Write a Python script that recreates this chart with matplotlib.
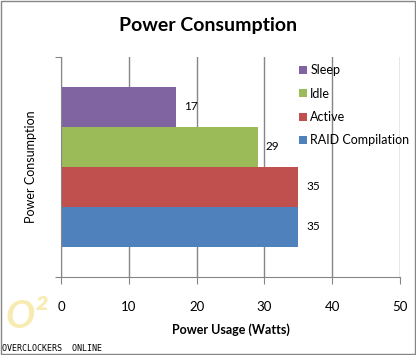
import matplotlib.pyplot as plt
from matplotlib.patches import Rectangle

# data
series = ['RAID Compilation', 'Active', 'Idle', 'Sleep']
watts = [35, 35, 29, 17]
colors = ['#4F81BD', '#C0504D', '#9BBB59', '#8064A2']
xticks = [0, 10, 20, 30, 40, 50]

plt.rcParams['font.family'] = ['Lato', 'DejaVu Sans']

fig = plt.figure(figsize=(4.16, 3.55), dpi=100)
ax = fig.add_axes([61 / 416, 1 - 277 / 355, (400 - 61) / 416, 220 / 355])

bars = ax.barh(range(len(series)), watts, height=1.0, color=colors, zorder=2)
for i, v in enumerate(watts):
    ax.text(v + 1.2, i, str(v), va='center', ha='left', fontsize=8.5)

ax.set_xlim(0, 50)
ax.set_ylim(-1.25, 4.25)
ax.set_xticks(xticks)
ax.set_yticks([-1.25, 4.25])
ax.set_yticklabels([])
ax.tick_params(axis='x', length=5, color='#868686', labelsize=9.5, pad=12)
ax.tick_params(axis='y', length=4, color='#868686')
ax.grid(axis='x', color='#868686', linewidth=1, zorder=0)
for s in ['top', 'right']:
    ax.spines[s].set_visible(False)
for s in ['left', 'bottom']:
    ax.spines[s].set_color('#868686')

ax.set_xlabel('Power Usage (Watts)', fontsize=9, fontweight='bold', labelpad=8)
ax.set_ylabel('Power Consumption', fontsize=9, labelpad=10)
fig.text(0.5, 1 - 25 / 355, 'Power Consumption', ha='center', va='center',
         fontsize=14, fontweight='bold')

# legend
handles = [bars[i] for i in [3, 2, 1, 0]]
labels = [series[i] for i in [3, 2, 1, 0]]
fig.legend(handles, labels, loc='upper left', bbox_to_anchor=(294 / 416, 1 - 59 / 355),
           frameon=False, fontsize=9, handlelength=0.6, handleheight=0.6,
           handletextpad=0.3, labelspacing=0.92, borderaxespad=0)

# watermark
fig.text(0.065, 0.06, 'O²', fontsize=28, style='italic', fontweight='bold',
         color='#F5E79E', alpha=0.8, ha='center', va='bottom', zorder=0)
fig.text(0.005, 0.005, 'OVERCLOCKERS  ONLINE', fontsize=6, family='DejaVu Sans Mono',
         ha='left', va='bottom')

fig.patches.append(Rectangle((0.002, 0.002), 0.996, 0.996, transform=fig.transFigure,
                             fill=False, edgecolor='#868686', linewidth=1))

fig.savefig('out.png', dpi=100)
